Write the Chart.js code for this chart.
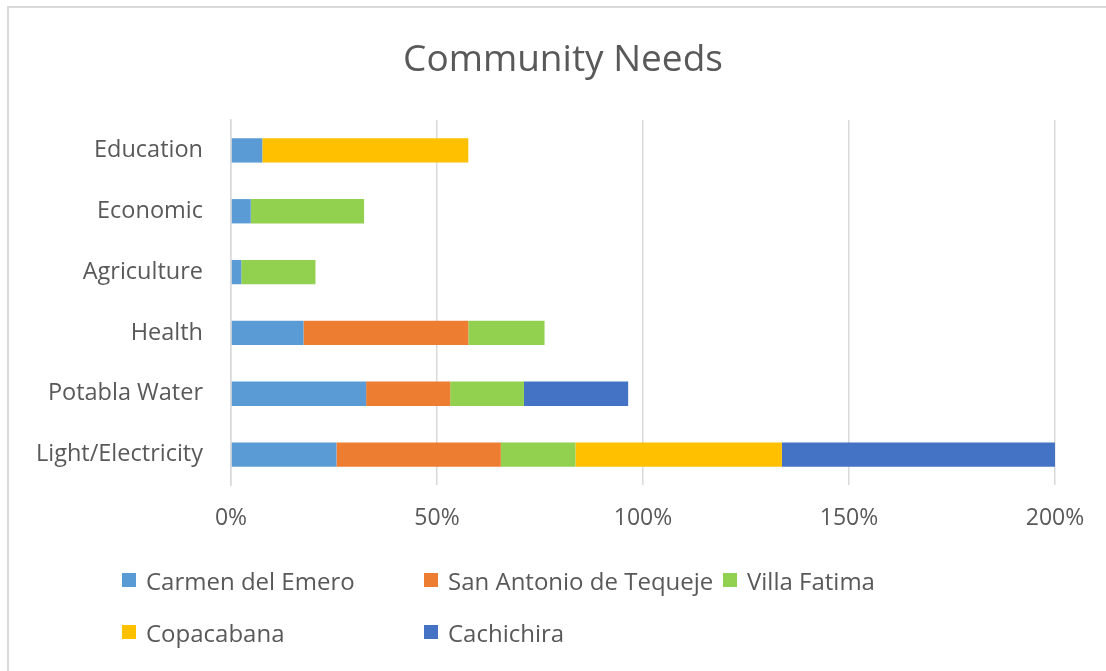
<!DOCTYPE html>
<html>
<head>
<meta charset="utf-8">
<script src="https://cdn.jsdelivr.net/npm/chart.js@4/dist/chart.umd.min.js"></script>
<style>
    body { margin: 0; background: #fff; font-family: "Open Sans", sans-serif; }
    #wrap { position: relative; width: 1106px; height: 671px; overflow: hidden; }
    #frame { position: absolute; left: 7px; top: 6px; width: 1200px; height: 800px; border: 2px solid #d9d9d9; box-sizing: border-box; }
    canvas { position: absolute; left: 0; top: 0; }
    #legend { position: absolute; left: 122px; top: 562px; display: grid; grid-template-columns: 302px 299px 300px; row-gap: 16px; }
    .item { display: flex; align-items: center; height: 36px; font-size: 24px; color: #595959; white-space: nowrap; }
    .box { width: 14px; height: 14px; margin-right: 10px; }
</style>
</head>
<body>
<div id="wrap">
    <div id="frame"></div>
    <canvas id="needsChart" width="1106" height="671"></canvas>
    <div id="legend"></div>
</div>
<script>
const needs = ['Education', 'Economic', 'Agriculture', 'Health', 'Potabla Water', 'Light/Electricity'];
const xTicks = [0, 50, 100, 150, 200];

// percent of responses per community, same order as needs
const carmenDelEmero = [7.6, 4.8, 2.5, 17.6, 32.8, 25.6];
const sanAntonio = [0, 0, 0, 40, 20.4, 39.9];
const villaFatima = [0, 27.5, 18, 18.5, 17.9, 18.1];
const copacabana = [50, 0, 0, 0, 0, 50.1];
const cachichira = [0, 0, 0, 0, 25.3, 66.3];

const series = [
    { label: 'Carmen del Emero', data: carmenDelEmero, color: '#5B9BD5' },
    { label: 'San Antonio de Tequeje', data: sanAntonio, color: '#ED7D31' },
    { label: 'Villa Fatima', data: villaFatima, color: '#92D050' },
    { label: 'Copacabana', data: copacabana, color: '#FFC000' },
    { label: 'Cachichira', data: cachichira, color: '#4472C4' }
];

const textColor = '#595959';
const gridColor = '#d9d9d9';

// centre the title over the frame rather than the plot
const shiftTitle = {
    id: 'shiftTitle',
    afterLayout(chart) {
        chart.titleBlock.left = 71;
        chart.titleBlock.right = 1055;
    }
};

const ctx = document.getElementById('needsChart').getContext('2d');
const chart = new Chart(ctx, {
    type: 'bar',
    data: {
        labels: needs,
        datasets: series.map(s => ({
            label: s.label,
            data: s.data,
            backgroundColor: s.color,
            borderWidth: 0,
            categoryPercentage: 1,
            barPercentage: 0.4
        }))
    },
    options: {
        indexAxis: 'y',
        responsive: false,
        animation: false,
        layout: { padding: { left: 0, right: 51, top: 0, bottom: 130 } },
        plugins: {
            legend: { display: false },
            tooltip: { enabled: false },
            title: {
                display: true,
                text: 'Community Needs',
                color: textColor,
                font: { family: 'Open Sans', size: 37, weight: 'normal' },
                padding: { top: 38, bottom: 37.6 }
            }
        },
        scales: {
            x: {
                stacked: true,
                min: 0,
                max: 200,
                afterBuildTicks: axis => { axis.ticks = xTicks.map(v => ({ value: v })); },
                afterFit: axis => { axis.height = 56; },
                ticks: {
                    color: textColor,
                    padding: 20,
                    font: { family: 'Open Sans', size: 23 },
                    callback: v => v + '%'
                },
                grid: { color: gridColor, lineWidth: 1.5, drawTicks: false },
                border: { display: false }
            },
            y: {
                stacked: true,
                afterFit: axis => { axis.width = 231; },
                ticks: {
                    color: textColor,
                    padding: 28,
                    font: { family: 'Open Sans', size: 23.5 }
                },
                grid: { display: false, drawTicks: false },
                border: { color: gridColor, width: 1.5 }
            }
        }
    },
    plugins: [shiftTitle]
});

// legend laid out in three columns
const legend = document.getElementById('legend');
chart.data.datasets.forEach(ds => {
    const item = document.createElement('div');
    item.className = 'item';
    const box = document.createElement('span');
    box.className = 'box';
    box.style.background = ds.backgroundColor;
    item.appendChild(box);
    item.appendChild(document.createTextNode(ds.label));
    legend.appendChild(item);
});
</script>
</body>
</html>
